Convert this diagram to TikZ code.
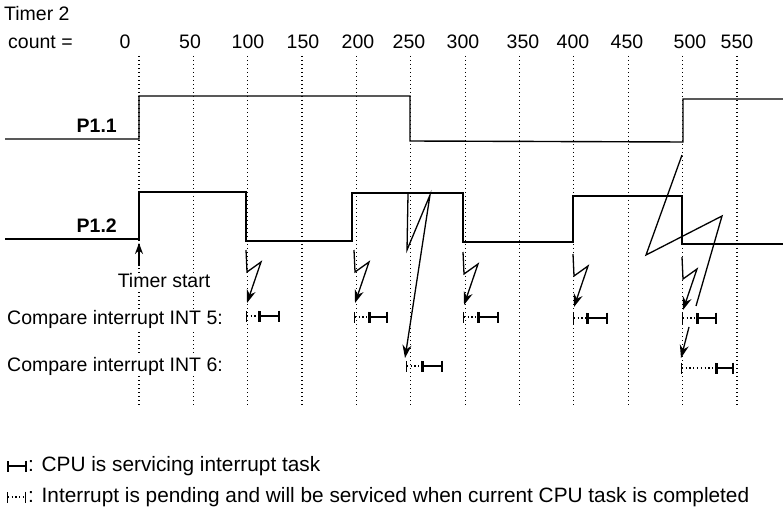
\documentclass[tikz,border=0pt]{standalone}
\usepackage{fontspec}
\setmainfont{Liberation Sans}
\usetikzlibrary{arrows.meta}

\begin{document}
\begin{tikzpicture}[x=1pt, y=-1pt,
  lbl/.style={font=\fontsize{19.5}{22}\selectfont, inner sep=1pt},
  key/.style={font=\fontsize{20.8}{24}\selectfont, inner sep=1pt},
  grid/.style={line width=1.2pt, dash pattern=on 1.2pt off 2.8pt},
  sig/.style={line width=1.4pt},
  bolt/.style={line width=1.3pt, -{Stealth[length=13pt, width=9pt]}},
  busy/.style={line width=1.6pt, {Bar[width=11pt]}-{Bar[width=11pt]}},
  pend/.style={line width=1.2pt, dash pattern=on 1.2pt off 2.6pt, {Bar[width=11pt, line width=1pt]}-{Bar[width=11pt, line width=1pt]}}
]
\useasboundingbox (0,0) rectangle (783,518);

% count scale
\node[lbl, anchor=west] (tmr) at (3,14) {Timer 2};
\node[lbl, anchor=west] (cnt) at (7,42) {count =};
\foreach \n/\x in {0/125, 50/190, 100/248, 150/303, 200/358, 250/409, 300/463, 350/523, 400/573, 450/627, 500/690, 550/737}
  \node[lbl] (c\n) at (\x,42) {\n};
\foreach \i in {0,...,11}
  \draw[grid] ({139+54.36*\i},56) -- ({139+54.36*\i},405);

% port pins
\node[lbl, font=\fontsize{19.5}{22}\selectfont\bfseries, anchor=east] (p11) at (118,126) {P1.1};
\node[lbl, font=\fontsize{19.5}{22}\selectfont\bfseries, anchor=east] (p12) at (118,226) {P1.2};
\draw[sig] (5,139) -- (139,139) -- (139,96) -- (410,96) -- (410,141) -- (683,142) -- (683,99) -- (783,99);
\draw[sig] (5,239) -- (139,239) -- (139,192) -- (246,192) -- (246,241) -- (352,241) -- (352,193) -- (463,193) -- (463,242) -- (573,242) -- (573,196) -- (682,196) -- (682,244) -- (783,244);

% timer start
\node[lbl, fill=white] (tstart) at (164,281) {Timer start};
\coordinate (t0) at (139,243);
\draw[line width=1.3pt, -{Stealth[length=11pt, width=8pt]}] (139,266) -- (t0);

% compare interrupts
\node[lbl, fill=white, anchor=west] (int5) at (6,319) {Compare interrupt INT 5:};
\node[lbl, fill=white, anchor=west] (int6) at (6,366) {Compare interrupt INT 6:};

\foreach \x/\y in {246/250, 354/250, 463/252, 573/254, 682/257}
  \draw[bolt] (\x,\y) -- (\x+1,\y+22) -- (\x+15,\y+12) -- (\x+1,\y+53);
\draw[bolt] (408,194) -- (407,250) -- (430,195) -- (405,358);
\draw[line width=1.3pt] (682,155) -- (646,255) -- (722,216) -- (696,306);
\draw[bolt] (689,327) -- (681,358);

\foreach \a/\b/\c/\y in {246/259/280/316, 354/369/388/317, 463/478/499/317, 573/587/608/318, 682/697/717/318, 406/422/443/366, 681/716/734/368} {
  \draw[pend] (\a,\y) -- (\b,\y);
  \draw[busy] (\b,\y) -- (\c,\y);
}

% key
\draw[busy] (7,466) -- (27,466);
\node[key, anchor=west] (key1) at (27,466) {: CPU is servicing interrupt task};
\draw[pend] (7,497) -- (26,497);
\node[key, anchor=west] (key2) at (27,497) {: Interrupt is pending and will be serviced when current CPU task is completed};
\end{tikzpicture}
\end{document}
